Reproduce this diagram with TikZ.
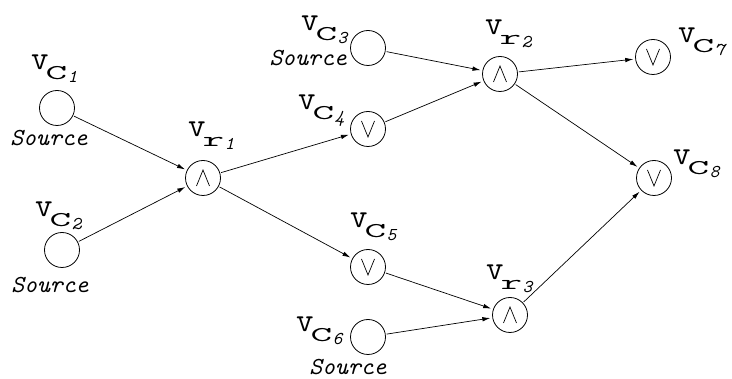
\documentclass[tikz,border=0pt]{standalone}
\usepackage{fontspec}
\usetikzlibrary{arrows.meta}
\newcommand\vlab[2]{{\ttfamily\fontsize{34}{34}\selectfont v\hspace{-3pt}\raisebox{-10pt}{\fontsize{21}{21}\selectfont\scalebox{2}[1]{#1}\hspace{0.5pt}\raisebox{-3pt}{\fontsize{18}{18}\selectfont\itshape #2}}}}
\newcommand\srctext{{\ttfamily\itshape\fontsize{24.5}{24.5}\selectfont Source}}
\tikzset{
  gate/.style={circle, draw, line width=0.8pt, minimum size=35pt, inner sep=0pt},
  andgate/.style={gate, path picture={\draw[line width=0.7pt] ([shift={(-6.5pt,-8pt)}]path picture bounding box.center) -- ([shift={(0pt,8pt)}]path picture bounding box.center) -- ([shift={(6.5pt,-8pt)}]path picture bounding box.center);}},
  orgate/.style={gate, path picture={\draw[line width=0.7pt] ([shift={(-6.5pt,8pt)}]path picture bounding box.center) -- ([shift={(0pt,-8pt)}]path picture bounding box.center) -- ([shift={(6.5pt,8pt)}]path picture bounding box.center);}},
  lab/.style={anchor=base west, inner sep=0pt},
  src/.style={anchor=base, inner sep=0pt},
  arr/.style={line width=0.7pt, -{Latex[length=8pt,width=4.5pt]}, shorten >=2pt, shorten <=1pt}
}
\begin{document}
\begin{tikzpicture}[x=1pt,y=-1pt]
\useasboundingbox (0,0) rectangle (732,379);
% nodes
\node[gate] (c1) at (57,108) {};
\node[gate] (c2) at (62,250) {};
\node[andgate] (r1) at (203,178) {};
\node[gate] (c3) at (368,48) {};
\node[orgate] (c4) at (368,129) {};
\node[andgate] (r2) at (500,74) {};
\node[orgate] (c5) at (368,267) {};
\node[gate] (c6) at (368,337) {};
\node[andgate] (r3) at (510,315) {};
\node[orgate] (c7) at (653,57) {};
\node[orgate] (c8) at (654,178) {};
% labels
\node[lab] (l1) at (31,70) {\vlab{C}{1}};
\node[lab] (l2) at (35,217) {\vlab{C}{2}};
\node[lab] (l3) at (301,31) {\vlab{C}{3}};
\node[lab] (l4) at (298,110) {\vlab{C}{4}};
\node[lab] (l5) at (350,228) {\vlab{C}{5}};
\node[lab] (l6) at (296,332) {\vlab{C}{6}};
\node[lab] (l7) at (678,43) {\vlab{C}{7}};
\node[lab] (l8) at (673,165) {\vlab{C}{8}};
\node[lab] (lr1) at (188,137) {\vlab{r}{1}};
\node[lab] (lr2) at (485,35) {\vlab{r}{2}};
\node[lab] (lr3) at (486,280) {\vlab{r}{3}};
% sources
\node[src] (s1) at (49,146) {\srctext};
\node[src] (s2) at (50,293) {\srctext};
\node[anchor=base east, inner sep=0pt] (s3) at (347,66) {\srctext};
\node[src] (s6) at (348,375) {\srctext};
% edges
\draw[arr] (c1) -- (r1);
\draw[arr] (c2) -- (r1);
\draw[arr] (r1) -- (c4);
\draw[arr] (r1) -- (c5);
\draw[arr] (c3) -- (r2);
\draw[arr] (c4) -- (r2);
\draw[arr] (c5) -- (r3);
\draw[arr] (c6) -- (r3);
\draw[arr] (r2) -- (c7);
\draw[arr] (r2) -- (c8);
\draw[arr] (r3) -- (c8);
\end{tikzpicture}
\end{document}
